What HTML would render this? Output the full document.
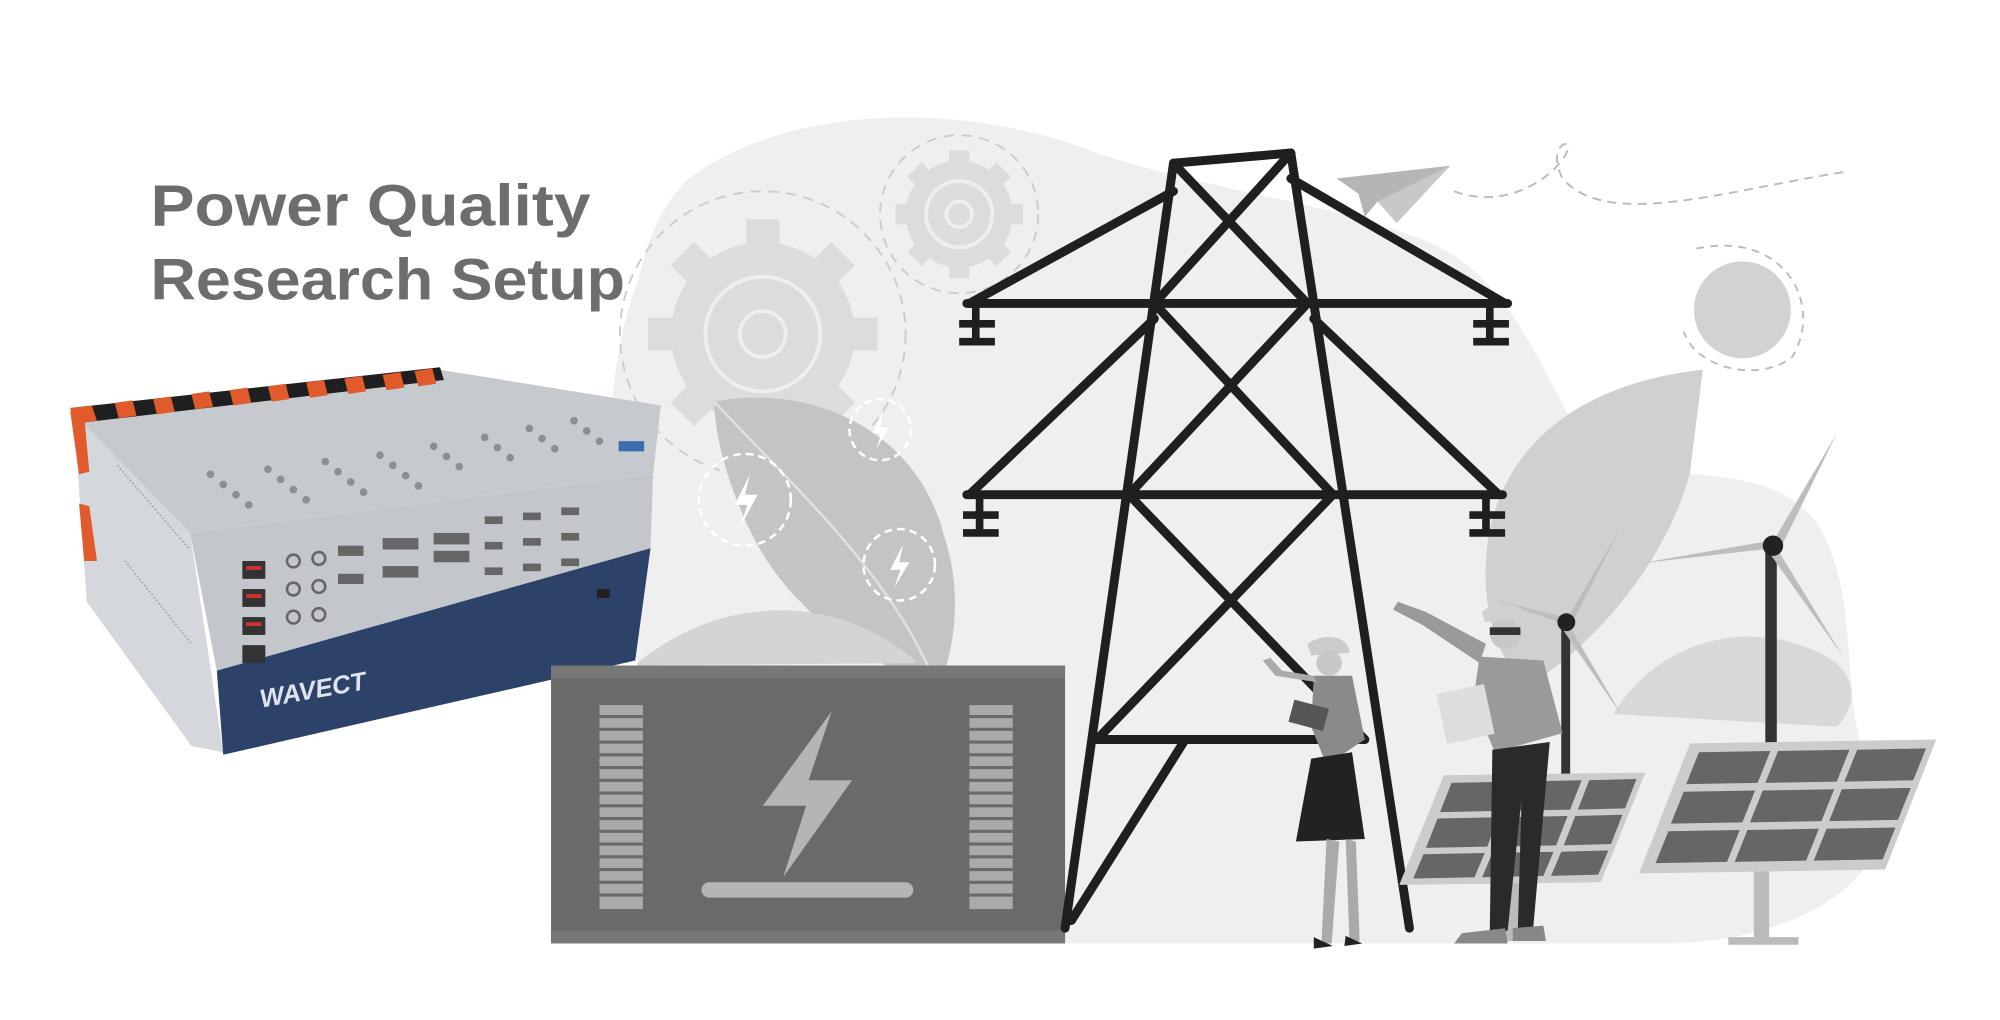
<!DOCTYPE html>
<html><head><meta charset="utf-8"><style>
html,body{margin:0;padding:0;background:#fff;width:2000px;height:1020px;overflow:hidden}
svg{display:block}
</style></head><body>
<svg width="2000" height="1020" viewBox="0 0 1568 800" preserveAspectRatio="none" xmlns="http://www.w3.org/2000/svg">
<rect width="1568" height="800" fill="#fff"/>
<!-- background blob -->
<path d="M540,140 C620,80 760,80 860,120 C950,150 1050,160 1120,190 C1190,220 1210,300 1250,360 C1320,380 1400,360 1430,420 C1460,480 1440,560 1470,610 C1500,680 1420,740 1300,740 L560,740 C480,700 470,600 500,520 C470,430 470,300 500,220 C510,180 520,160 540,140 Z" fill="#efefef"/>
<!-- gears -->
<g fill="#dcdcdc">
<circle cx="598" cy="262" r="72"/>
<g stroke="#dcdcdc" stroke-width="26" stroke-linecap="butt">
<line x1="598" y1="172" x2="598" y2="352"/><line x1="508" y1="262" x2="688" y2="262"/>
<line x1="535" y1="199" x2="661" y2="325"/><line x1="661" y1="199" x2="535" y2="325"/>
</g>
<circle cx="752" cy="168" r="42"/>
<g stroke="#dcdcdc" stroke-width="16">
<line x1="752" y1="118" x2="752" y2="218"/><line x1="702" y1="168" x2="802" y2="168"/>
<line x1="717" y1="133" x2="787" y2="203"/><line x1="787" y1="133" x2="717" y2="203"/>
</g>
</g>
<circle cx="598" cy="262" r="45" fill="none" stroke="#eee" stroke-width="3"/>
<circle cx="598" cy="262" r="18" fill="none" stroke="#eee" stroke-width="3"/>
<circle cx="752" cy="168" r="26" fill="none" stroke="#eee" stroke-width="3"/>
<circle cx="752" cy="168" r="10" fill="none" stroke="#eee" stroke-width="3"/>
<circle cx="598" cy="262" r="112" fill="none" stroke="#ccc" stroke-width="1.5" stroke-dasharray="8 6"/>
<circle cx="752" cy="168" r="62" fill="none" stroke="#ccc" stroke-width="1.5" stroke-dasharray="8 6"/>
<!-- sun -->
<circle cx="1366" cy="243" r="38" fill="#d2d2d2"/>
<path d="M1330,195 C1400,180 1430,240 1405,280 C1380,300 1330,290 1320,260" fill="none" stroke="#bbb" stroke-width="1.5" stroke-dasharray="6 5"/>
<!-- paper plane -->
<path d="M1048,140 L1137,130 L1095,175 L1080,158 Z" fill="#c8c8c8"/>
<path d="M1048,140 L1137,130 L1080,158 L1070,170 L1065,152 Z" fill="#b5b5b5"/>
<path d="M1140,150 C1180,165 1215,140 1225,125 C1240,105 1210,110 1225,140 C1260,180 1350,150 1445,135" fill="none" stroke="#bbb" stroke-width="1.5" stroke-dasharray="7 5"/>
<!-- leaves -->
<path d="M560,315 C640,300 720,340 740,420 C760,480 740,530 735,540 C680,520 620,480 590,420 C570,380 560,340 560,315 Z" fill="#c4c4c4"/>
<path d="M560,315 C620,380 700,450 735,540" fill="none" stroke="#e0e0e0" stroke-width="2"/>
<path d="M500,520 C560,470 650,460 720,520 L500,522 Z" fill="#d4d4d4"/>
<path d="M1335,290 C1240,300 1170,350 1165,440 C1162,490 1180,520 1195,540 C1260,500 1310,430 1325,370 Z" fill="#d0d0d0"/>
<path d="M1265,560 C1300,500 1380,480 1440,520 C1460,540 1450,560 1440,570 Z" fill="#d8d8d8"/>
<!-- dashed bolt circles -->
<g fill="none" stroke="#fff" stroke-width="2" stroke-dasharray="6 4">
<circle cx="584" cy="392" r="36"/><circle cx="690" cy="337" r="24"/><circle cx="705" cy="443" r="28"/>
</g>
<g fill="#fff"><path d="M588,372 L576,396 L586,396 L580,414 L594,388 L584,388 Z"/><path d="M692,323 L684,340 L691,340 L687,352 L697,335 L690,335 Z"/><path d="M708,427 L698,447 L706,447 L701,461 L713,441 L705,441 Z"/></g>
<!-- title -->
<text x="118" y="177" font-family="Liberation Sans, sans-serif" font-weight="bold" font-size="46" fill="#6d6d6d" textLength="345" lengthAdjust="spacingAndGlyphs">Power Quality</text>
<text x="118" y="235" font-family="Liberation Sans, sans-serif" font-weight="bold" font-size="46" fill="#6d6d6d" textLength="372" lengthAdjust="spacingAndGlyphs">Research Setup</text>
<!-- device -->
<path d="M58,325 L345,290 L518,318 L512,372 L149,418 Z" fill="#c6c9cd"/>
<path d="M58,325 L149,418 L175,590 L150,585 L68,472 Z" fill="#d4d7db"/>
<path d="M149,418 L512,372 L510,430 L170,526 Z" fill="#c3c7cc"/>
<path d="M170,526 L510,430 L498,518 L175,592 Z" fill="#2d4268"/>
<!-- orange/black strip -->
<g>
<path d="M55,320 L345,288 L348,298 L60,332 Z" fill="#1f1f1f"/>
<g fill="#e05a2b">
<path d="M55,320 L72,318 L76,330 L60,332 Z"/><path d="M90,316 L104,314 L107,326 L93,328 Z"/><path d="M120,313 L134,311 L137,323 L123,325 Z"/><path d="M150,309 L164,307 L167,319 L153,321 Z"/><path d="M180,306 L194,304 L197,316 L183,318 Z"/><path d="M210,303 L224,301 L227,313 L213,315 Z"/><path d="M240,300 L254,298 L257,310 L243,312 Z"/><path d="M270,297 L284,295 L287,307 L273,309 Z"/><path d="M300,294 L314,292 L317,304 L303,306 Z"/><path d="M325,291 L339,289 L342,301 L328,303 Z"/>
</g>
<path d="M55,322 L66,326 L70,370 L62,372 Z M62,395 L70,397 L76,440 L66,440 Z" fill="#e05a2b"/>
</g>
<g stroke="#9aa" stroke-width="1.2" stroke-dasharray="1.5 1.5">
<line x1="92" y1="365" x2="148" y2="430"/><line x1="98" y1="440" x2="150" y2="505"/>
</g>
<g fill="#8a8f96">
<circle cx="165" cy="372" r="3"/><circle cx="175" cy="380" r="3"/><circle cx="185" cy="388" r="3"/><circle cx="195" cy="396" r="3"/>
<circle cx="210" cy="368" r="3"/><circle cx="220" cy="376" r="3"/><circle cx="230" cy="384" r="3"/><circle cx="240" cy="392" r="3"/>
<circle cx="255" cy="362" r="3"/><circle cx="265" cy="370" r="3"/><circle cx="275" cy="378" r="3"/><circle cx="285" cy="386" r="3"/>
<circle cx="298" cy="357" r="3"/><circle cx="308" cy="365" r="3"/><circle cx="318" cy="373" r="3"/><circle cx="328" cy="381" r="3"/>
<circle cx="340" cy="350" r="3"/><circle cx="350" cy="358" r="3"/><circle cx="360" cy="366" r="3"/>
<circle cx="380" cy="343" r="3"/><circle cx="390" cy="351" r="3"/><circle cx="400" cy="359" r="3"/>
<circle cx="415" cy="336" r="3"/><circle cx="425" cy="344" r="3"/><circle cx="435" cy="352" r="3"/>
<circle cx="450" cy="330" r="3"/><circle cx="460" cy="338" r="3"/><circle cx="470" cy="346" r="3"/>
</g>
<rect x="485" y="346" width="20" height="8" fill="#3b6db0"/>
<g fill="#333"><rect x="190" y="440" width="18" height="14"/><rect x="190" y="462" width="18" height="14"/><rect x="190" y="484" width="18" height="14"/><rect x="190" y="506" width="18" height="14"/></g>
<g fill="#c33"><rect x="193" y="444" width="12" height="3"/><rect x="193" y="466" width="12" height="3"/><rect x="193" y="488" width="12" height="3"/></g>
<g fill="none" stroke="#666" stroke-width="2">
<circle cx="230" cy="440" r="5"/><circle cx="250" cy="438" r="5"/><circle cx="230" cy="462" r="5"/><circle cx="250" cy="460" r="5"/><circle cx="230" cy="484" r="5"/><circle cx="250" cy="482" r="5"/>
</g>
<g fill="#666"><rect x="265" y="428" width="20" height="8"/><rect x="265" y="450" width="20" height="8"/><rect x="300" y="422" width="28" height="9"/><rect x="300" y="444" width="28" height="9"/><rect x="340" y="418" width="28" height="9"/><rect x="340" y="432" width="28" height="9"/><rect x="380" y="405" width="14" height="6"/><rect x="410" y="402" width="14" height="6"/><rect x="440" y="398" width="14" height="6"/><rect x="380" y="425" width="14" height="6"/><rect x="410" y="422" width="14" height="6"/><rect x="440" y="418" width="14" height="6"/><rect x="380" y="445" width="14" height="6"/><rect x="410" y="442" width="14" height="6"/><rect x="440" y="438" width="14" height="6"/></g>
<rect x="468" y="462" width="10" height="7" fill="#222"/>
<text x="205" y="555" font-family="Liberation Sans, sans-serif" font-weight="bold" font-style="italic" font-size="20" fill="#dfe4ec" transform="rotate(-10 205 555)">WAVECT</text>
<!-- battery -->
<rect x="432" y="522" width="403" height="218" fill="#6a6a6a"/>
<rect x="432" y="522" width="403" height="10" fill="#777"/>
<rect x="432" y="730" width="403" height="10" fill="#777"/>
<g fill="#aaa">
<rect x="470" y="553" width="34" height="160"/><rect x="760" y="553" width="34" height="160"/>
</g>
<g stroke="#6a6a6a" stroke-width="2.5">
<path d="M470,562H504M470,572H504M470,582H504M470,592H504M470,602H504M470,612H504M470,622H504M470,632H504M470,642H504M470,652H504M470,662H504M470,672H504M470,682H504M470,692H504M470,702H504"/>
<path d="M760,562H794M760,572H794M760,582H794M760,592H794M760,602H794M760,612H794M760,622H794M760,632H794M760,642H794M760,652H794M760,662H794M760,672H794M760,682H794M760,692H794M760,702H794"/>
</g>
<path d="M652,558 L598,632 L632,632 L614,688 L668,612 L634,612 Z" fill="#b5b5b5"/>
<rect x="550" y="692" width="166" height="12" rx="6" fill="#b5b5b5"/>
<!-- tower -->
<g stroke="#1f1f1f" stroke-width="7" stroke-linecap="round" fill="none">
<line x1="920" y1="128" x2="1012" y2="120"/>
<line x1="920" y1="128" x2="835" y2="728"/>
<line x1="1012" y1="120" x2="1105" y2="728"/>
<line x1="920" y1="128" x2="1025" y2="238"/><line x1="1012" y1="120" x2="905" y2="238"/>
<line x1="758" y1="238" x2="1182" y2="238"/>
<line x1="920" y1="150" x2="760" y2="238"/><line x1="1012" y1="140" x2="1180" y2="238"/>
<line x1="905" y1="238" x2="1045" y2="388"/><line x1="1025" y1="238" x2="885" y2="388"/>
<line x1="905" y1="250" x2="760" y2="388"/><line x1="1030" y1="250" x2="1175" y2="388"/>
<line x1="758" y1="388" x2="1178" y2="388"/>
<line x1="885" y1="388" x2="1070" y2="580"/><line x1="1045" y1="388" x2="860" y2="580"/>
<line x1="860" y1="580" x2="1070" y2="580"/>
<line x1="928" y1="582" x2="840" y2="722"/>
</g>
<g stroke="#1f1f1f" stroke-width="6">
<path d="M765,238V268M752,254H780M752,268H780"/>
<path d="M1168,238V268M1155,254H1183M1155,268H1183"/>
<path d="M768,388V418M755,404H783M755,418H783"/>
<path d="M1165,388V418M1152,404H1180M1152,418H1180"/>
</g>
<!-- wind turbines -->
<g fill="#333"><rect x="1384" y="428" width="9" height="155"/><rect x="1224" y="488" width="7" height="120"/></g>
<g fill="#bdbdbd">
<path d="M1390,425 L1440,340 L1396,430 Z"/><path d="M1390,430 L1285,442 L1388,424 Z"/><path d="M1393,430 L1445,515 L1386,432 Z"/>
<path d="M1228,486 L1270,415 L1232,490 Z"/><path d="M1228,490 L1170,470 L1226,484 Z"/><path d="M1230,490 L1272,562 L1224,492 Z"/>
</g>
<circle cx="1390" cy="428" r="8" fill="#222"/><circle cx="1228" cy="488" r="7" fill="#222"/>
<!-- solar panels -->
<rect x="1375" y="678" width="12" height="58" fill="#bbb"/><rect x="1355" y="735" width="55" height="6" fill="#bbb"/>
<path d="M1325,583 L1518,580 L1478,682 L1285,685 Z" fill="#ccc"/>
<g fill="#666">
<path d="M1332,590 L1388,589 L1378,614 L1322,615 Z"/><path d="M1394,589 L1450,588 L1440,613 L1384,614 Z"/><path d="M1456,588 L1510,587 L1500,612 L1446,613 Z"/>
<path d="M1320,621 L1376,620 L1366,645 L1310,646 Z"/><path d="M1382,620 L1438,619 L1428,644 L1372,645 Z"/><path d="M1444,619 L1498,618 L1488,643 L1434,644 Z"/>
<path d="M1308,652 L1364,651 L1354,676 L1298,677 Z"/><path d="M1370,651 L1426,650 L1416,675 L1360,676 Z"/><path d="M1432,650 L1486,649 L1476,674 L1422,675 Z"/>
</g>
<rect x="1180" y="690" width="12" height="48" fill="#bbb"/>
<path d="M1132,608 L1290,606 L1255,692 L1097,694 Z" fill="#ccc"/>
<g fill="#666">
<path d="M1138,614 L1186,613 L1177,636 L1129,637 Z"/><path d="M1192,613 L1240,612 L1231,635 L1183,636 Z"/><path d="M1246,612 L1283,611 L1274,634 L1237,635 Z"/>
<path d="M1127,642 L1175,641 L1166,664 L1118,665 Z"/><path d="M1181,641 L1229,640 L1220,663 L1172,664 Z"/><path d="M1235,640 L1272,639 L1263,662 L1226,663 Z"/>
<path d="M1116,670 L1164,669 L1156,688 L1108,689 Z"/><path d="M1170,669 L1218,668 L1210,687 L1162,688 Z"/><path d="M1224,668 L1261,667 L1253,686 L1216,687 Z"/>
</g>
<!-- woman -->
<path d="M1025,505 C1040,495 1058,500 1058,512 L1028,514 Z" fill="#ccc"/>
<circle cx="1042" cy="520" r="10" fill="#c8c8c8"/>
<path d="M1030,530 L1060,530 L1070,580 L1040,600 L1028,570 Z" fill="#8a8a8a"/>
<path d="M1028,595 L1060,590 L1070,658 L1016,660 Z" fill="#222"/>
<path d="M1040,658 L1036,740 L1044,740 L1050,660 Z M1055,658 L1058,738 L1066,738 L1063,660 Z" fill="#aaa"/>
<path d="M1030,735 L1045,742 L1030,744 Z M1055,734 L1068,740 L1054,742 Z" fill="#222"/>
<path d="M1032,535 L1000,530 L990,518 L996,516 L1005,526 L1030,530 Z" fill="#aaa"/>
<rect x="1012" y="552" width="28" height="18" fill="#555" transform="rotate(15 1026 561)"/>
<!-- man -->
<path d="M1162,480 C1172,470 1195,472 1198,485 L1164,488 Z" fill="#d0d0d0"/>
<circle cx="1180" cy="497" r="12" fill="#c8c8c8"/>
<rect x="1168" y="492" width="24" height="6" fill="#333"/>
<path d="M1160,515 L1210,518 L1225,575 L1172,590 L1155,550 Z" fill="#9a9a9a"/>
<path d="M1160,520 L1115,490 L1092,478 L1096,472 L1118,480 L1165,505 Z" fill="#9a9a9a"/>
<rect x="1130" y="540" width="38" height="40" fill="#ddd" transform="rotate(-12 1149 560)"/>
<path d="M1170,588 L1215,582 L1202,728 L1190,728 L1193,625 L1182,730 L1168,730 Z" fill="#2a2a2a"/>
<path d="M1146,732 L1180,728 L1182,740 L1140,740 Z M1186,728 L1210,726 L1212,738 L1186,738 Z" fill="#888"/>
</svg>
</body></html>
